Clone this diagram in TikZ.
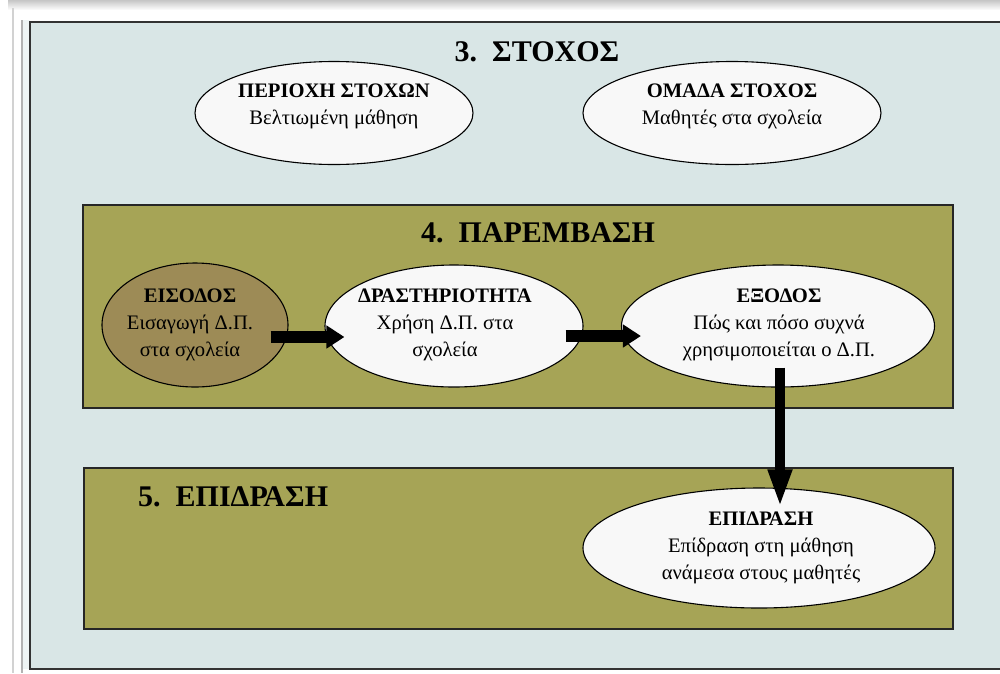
\documentclass[tikz,border=0pt]{standalone}
\usepackage{fontspec}
\setmainfont{Liberation Serif}
\usetikzlibrary{shapes.geometric,arrows.meta,calc}
\definecolor{bgblue}{RGB}{217,230,230}
\definecolor{olivefill}{RGB}{166,164,86}
\definecolor{brownfill}{RGB}{157,139,86}
\definecolor{offwhite}{RGB}{248,248,248}
\begin{document}
\begin{tikzpicture}[x=1pt,y=-1pt,
  ell/.style={ellipse, draw=black, line width=1.1pt, inner sep=0pt},
  etext/.style={align=center, inner sep=0pt, font=\fontsize{20.6}{26.8}\selectfont},
  panel/.style={draw=black!85, line width=2pt, fill=olivefill},
  ttl/.style={font=\fontsize{30}{34}\selectfont\bfseries, inner sep=0pt},
  fatarrow/.style={line width=12pt, -{Triangle[width=22pt,length=18pt]}},
  varrow/.style={line width=10pt, -{Triangle[width=22pt,length=38pt]}},
]
\useasboundingbox (0,0) rectangle (1000,673);
\fill[white] (0,0) rectangle (1000,673);
\shade[top color=gray!45, bottom color=white] (8,0) rectangle (1000,10);
\draw[gray!35, line width=1.5pt] (13,8) -- (13,673);
\fill[bgblue!45!white] (22,20) rectangle (30,669);
\draw[gray!60, line width=1.2pt] (22,20) -- (22,673);
\draw[fill=bgblue, draw=black!80, line width=2pt] (30,22) rectangle (1012,669);

% 3. target
\node[ttl] (t3) at (537,52) {3.~~ΣΤΟΧΟΣ};
\node[ell, fill=offwhite, minimum width=278pt, minimum height=103pt] (per) at (334,113) {};
\node[etext] (per-t) at (334,106) {\textbf{ΠΕΡΙΟΧΗ ΣΤΟΧΩΝ}\\Βελτιωμένη μάθηση};
\node[ell, fill=offwhite, minimum width=298pt, minimum height=103pt] (oma) at (732,113) {};
\node[etext] (oma-t) at (732,106) {\textbf{ΟΜΑΔΑ ΣΤΟΧΟΣ}\\Μαθητές στα σχολεία};

% 4. intervention
\draw[panel] (83,205) rectangle (953,408);
\node[ttl] (t4) at (538,233) {4.~~ΠΑΡΕΜΒΑΣΗ};
\node[ell, fill=brownfill, minimum width=186pt, minimum height=124pt] (eis) at (195,325) {};
\node[etext] (eis-t) at (190,325) {\textbf{ΕΙΣΟΔΟΣ}\\Εισαγωγή Δ.Π.\\στα σχολεία};
\node[ell, fill=offwhite, minimum width=258pt, minimum height=122pt] (dra) at (454,326) {};
\node[etext] (dra-t) at (445,325) {\textbf{ΔΡΑΣΤΗΡΙΟΤΗΤΑ}\\Χρήση Δ.Π. στα\\σχολεία};
\node[ell, fill=offwhite, minimum width=313pt, minimum height=122pt] (exo) at (778,326) {};
\node[etext] (exo-t) at (779,325) {\textbf{ΕΞΟΔΟΣ}\\Πώς και πόσο συχνά\\χρησιμοποιείται ο Δ.Π.};

% 5. impact
\draw[panel] (84,468) rectangle (953,629);
\node[ttl, anchor=west] (t5) at (138,497) {5.~~ΕΠΙΔΡΑΣΗ};
\node[ell, fill=offwhite, minimum width=352pt, minimum height=120pt] (epi) at (759,548) {};
\node[etext] (epi-t) at (761,548) {\textbf{ΕΠΙΔΡΑΣΗ}\\Επίδραση στη μάθηση\\ανάμεσα στους μαθητές};

% arrows
\draw[fatarrow] ([xshift=-18pt,yshift=-12pt]eis.east) -- ([xshift=20pt,yshift=-11pt]dra.west);
\draw[fatarrow] ([xshift=-18pt,yshift=-10pt]dra.east) -- ([xshift=20pt,yshift=-10pt]exo.west);
\coordinate (vs) at ([xshift=2pt,yshift=20pt]exo.south);
\path (vs |- epi.north) coordinate (vm);
\coordinate (ve) at ([yshift=-20pt]vm);
\draw[varrow] (vs) -- (ve);
\end{tikzpicture}
\end{document}
